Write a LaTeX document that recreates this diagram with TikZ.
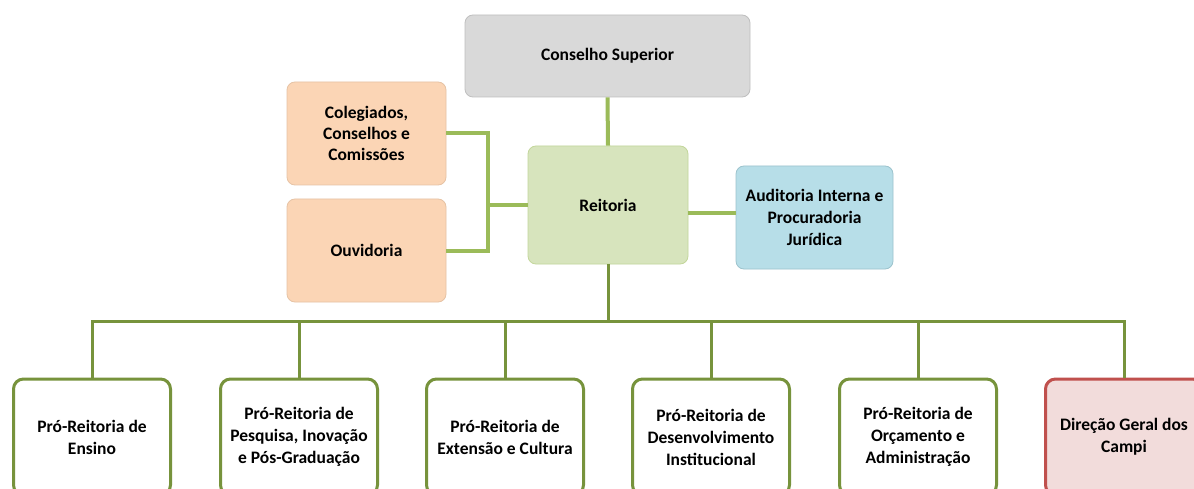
\documentclass[tikz,border=0pt]{standalone}
\usepackage{fontspec}
\setmainfont{Carlito}
\definecolor{grayF}{HTML}{D9D9D9}
\definecolor{grayB}{HTML}{BFBFBF}
\definecolor{greenF}{HTML}{D7E4BD}
\definecolor{greenB}{HTML}{C3D69B}
\definecolor{peachF}{HTML}{FBD5B5}
\definecolor{peachB}{HTML}{E6C3A5}
\definecolor{blueF}{HTML}{B7DEE8}
\definecolor{blueB}{HTML}{9CC3CD}
\definecolor{lineA}{HTML}{9BBB59}
\definecolor{lineB}{HTML}{77933C}
\definecolor{redF}{HTML}{F2DCDB}
\definecolor{redB}{HTML}{C0504D}
\tikzset{
  box/.style={rounded corners=8pt, align=center, font=\bfseries\fontsize{17.5}{22}\selectfont, inner sep=0pt, text=black},
  topbox/.style={box, line width=0.8pt},
  botbox/.style={box, line width=3pt, draw=lineB, fill=white, minimum width=157pt, minimum height=116pt, rounded corners=10pt},
  linkA/.style={draw=lineA, line width=4pt},
  linkB/.style={draw=lineB, line width=3pt},
}
\begin{document}
\begin{tikzpicture}[x=1pt,y=-1pt]
\useasboundingbox[fill=white] (0,0) rectangle (1194,489);
% top boxes
\node[topbox, draw=grayB, fill=grayF, minimum width=285pt, minimum height=82pt] (cs) at (607.5,56) {Conselho Superior};
\node[topbox, draw=greenB, fill=greenF, minimum width=160pt, minimum height=118pt] (reit) at (608,205) {Reitoria};
\node[topbox, draw=peachB, fill=peachF, minimum width=159pt, minimum height=103pt, font=\bfseries\fontsize{17.5}{21}\selectfont] (col) at (366.5,133.5) {Colegiados,\\Conselhos e\\Comissões};
\node[topbox, draw=peachB, fill=peachF, minimum width=159pt, minimum height=103pt] (ouv) at (366.5,250.5) {Ouvidoria};
\node[topbox, draw=blueB, fill=blueF, minimum width=157pt, minimum height=103pt] (aud) at (814.5,217.5) {Auditoria Interna e\\Procuradoria\\Jurídica};
% bottom boxes
\node[botbox] (p1) at (92,437) {Pró-Reitoria de\\Ensino};
\node[botbox] (p2) at (299,437) {Pró-Reitoria de\\Pesquisa, Inovação\\e Pós-Graduação};
\node[botbox] (p3) at (505,437) {Pró-Reitoria de\\Extensão e Cultura};
\node[botbox] (p4) at (711,437) {Pró-Reitoria de\\Desenvolvimento\\Institucional};
\node[botbox] (p5) at (918,437) {Pró-Reitoria de\\Orçamento e\\Administração};
\node[botbox, draw=redB, fill=redF] (p6) at (1124,437) {Direção Geral dos\\Campi};
% junctions
\coordinate (j1) at (488,205);
\coordinate (bus) at (607,321);
% top connectors
\draw[linkA] (cs.south) -- (reit.north);
\draw[linkA] (col.east) -| (j1) |- (ouv.east);
\draw[linkA] (j1) -- (reit.west);
\draw[linkA] (reit.east |- 0,213) -- (aud.west |- 0,213);
% bottom connectors
\draw[linkB] (reit.south) -- (reit.south |- bus);
\draw[linkB] (p1.north) -- (p1.north |- bus) -- (p6.north |- bus) -- (p6.north);
\foreach \n in {p2,p3,p4,p5} \draw[linkB] (\n.north) -- (\n.north |- bus);
\end{tikzpicture}
\end{document}
